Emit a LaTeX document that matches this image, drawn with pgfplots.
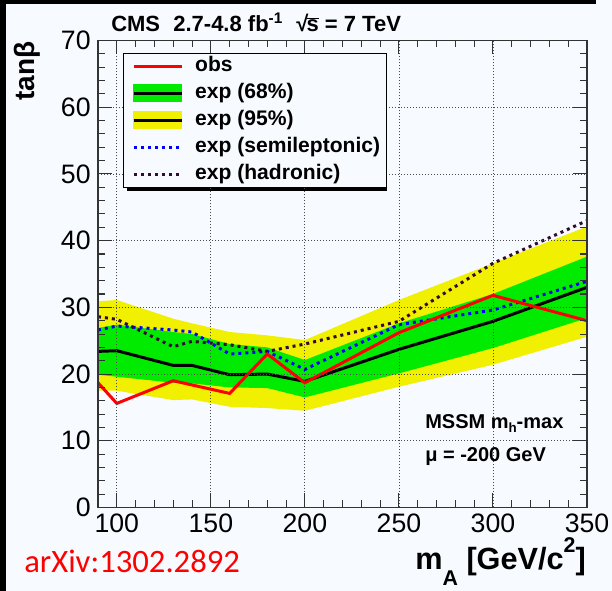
\documentclass[border=0pt]{standalone}
\usepackage{fontspec}
\setmainfont{Liberation Sans}
\newfontfamily\calib{Carlito}
\usepackage{pgfplots}
\pgfplotsset{compat=1.18}
\usepackage{pgfplotstable}

\definecolor{bg}{RGB}{247,251,255}
\definecolor{gband}{RGB}{0,235,0}
\definecolor{yband}{RGB}{240,240,0}
\definecolor{had}{RGB}{50,10,50}

% expected median, semileptonic and hadronic limits
\pgfplotstableread{
x    med   semi  hadr
90   23.4  26.6  28.6
100  23.5  27.2  28.2
130  21.3  26.6  24.1
140  21.3  26.3  24.9
160  19.9  23.0  24.4
180  20.0  23.4  23.4
200  18.9  20.7  24.5
250  23.7  27.4  27.9
300  27.9  29.6  36.6
350  33.0  33.9  43.0
}\bands

% 95% band: upper edge, then lower edge back
\pgfplotstableread{
x    y
90   30.9
100  31.1
130  28.3
140  27.6
160  26.3
180  25.8
200  25.1
250  31.1
300  36.6
350  42.1
350  25.6
300  21.4
250  18.1
200  14.5
180  14.9
160  15.1
140  16.2
130  16.1
100  17.5
90   17.5
}\ybandtab

% 68% band
\pgfplotstableread{
x    y
90   26.9
100  27.4
130  26.3
140  26.0
160  24.5
180  24.0
200  22.1
250  27.6
300  32.0
350  37.6
350  28.4
300  23.9
250  20.1
200  16.5
180  17.9
160  18.0
140  18.6
130  18.7
100  19.6
90   19.9
}\gbandtab

\pgfplotstableread{
x    obs
90   18.7
100  15.6
130  19.0
160  17.1
180  23.0
200  18.7
250  26.2
300  31.8
350  28.0
}\obsdata

\begin{document}
\begin{tikzpicture}
% canvas in pixel units of the reference
\begin{scope}[x=0.75pt,y=-0.75pt,xshift=-73.5pt,yshift=380.625pt]
\fill[bg] (0,0) rectangle (612,591);
\fill[black] (0,0) rectangle (6,591);
\fill[black] (0,0) rectangle (596,4);
\fill[black] (127,57) rectangle (387,191); % legend shadow
\end{scope}

\begin{axis}[
  at={(0,0)}, anchor=south west,
  scale only axis, width=366.75pt, height=350.25pt,
  xmin=90, xmax=350, ymin=0, ymax=70,
  xtick={100,150,...,350}, ytick={0,10,...,70},
  minor xtick={90,100,...,350}, minor ytick={0,2,...,70},
  tick align=inside, major tick length=10.5pt, minor tick length=5.25pt,
  xmajorgrids, ymajorgrids,
  major grid style={black!70, line width=0.6pt, dash pattern=on 0.75pt off 1.5pt},
  axis line style={black!80, line width=0.8pt},
  every tick/.style={black!80, line width=0.8pt},
  axis on top, no markers,
  tick label style={font=\fontsize{20}{22}\selectfont},
  /pgf/number format/assume math mode=true,
  xticklabel style={yshift=-1pt}, yticklabel style={xshift=-2pt},
  legend cell align=left,
  legend style={at={(0.0511,0.9733)}, anchor=north west,
    draw=black, line width=0.75pt, fill=bg,
    font=\bfseries\fontsize{15.8}{18}\selectfont,
    inner xsep=4.5pt, inner ysep=1.75pt, row sep=4.25pt, column sep=8.8pt,
    nodes={inner sep=0pt, text height=12pt, text depth=4pt}},
]
\addplot[fill=yband, draw=none, forget plot] table[x=x,y=y]{\ybandtab};
\addplot[fill=gband, draw=none, forget plot] table[x=x,y=y]{\gbandtab};
\addplot[black, line width=2.25pt, forget plot] table[x=x,y=med]{\bands};
\addplot[blue, line width=2.25pt, dash pattern=on 2.25pt off 3pt, forget plot] table[x=x,y=semi]{\bands};
\addplot[had, line width=2.25pt, dash pattern=on 2.25pt off 3pt, forget plot] table[x=x,y=hadr]{\bands};
\addplot[red, line width=2.25pt, forget plot] table[x=x,y=obs]{\obsdata};

\addlegendimage{legend image code/.code={\path (0pt,0pt); \draw[red, line width=2.25pt] (3pt,0pt) -- (39pt,0pt);}}
\addlegendentry{obs}
\addlegendimage{legend image code/.code={\path (0pt,0pt); \fill[gband] (3pt,-6.4pt) rectangle (39pt,6.4pt); \draw[black, line width=2.25pt] (3pt,0pt) -- (39pt,0pt);}}
\addlegendentry{exp (68\%)}
\addlegendimage{legend image code/.code={\path (0pt,0pt); \fill[yband] (3pt,-6.4pt) rectangle (39pt,6.4pt); \draw[black, line width=2.25pt] (3pt,0pt) -- (39pt,0pt);}}
\addlegendentry{exp (95\%)}
\addlegendimage{legend image code/.code={\path (0pt,0pt); \draw[blue, line width=2.25pt, dash pattern=on 2.25pt off 3pt] (3pt,0pt) -- (39pt,0pt);}}
\addlegendentry{exp (semileptonic)}
\addlegendimage{legend image code/.code={\path (0pt,0pt); \draw[had, line width=2.25pt, dash pattern=on 2.25pt off 3pt] (3pt,0pt) -- (39pt,0pt);}}
\addlegendentry{exp (hadronic)}
\end{axis}

\begin{scope}[x=0.75pt,y=-0.75pt,xshift=-73.5pt,yshift=380.625pt]
\node[anchor=base west, inner sep=0, font=\bfseries\fontsize{16.5}{18}\selectfont] at (111,31.5)
  {CMS\hspace{0.6em}2.7-4.8 fb\textsuperscript{-1}\hspace{0.6em}√\kern-0.08em$\overline{\mbox{s}}$ = 7 TeV};
\node[rotate=90, anchor=base east, inner sep=0, font=\bfseries\fontsize{21}{24}\selectfont] at (35,41) {tanβ};
\node[anchor=base east, inner sep=0, font=\bfseries\fontsize{23}{25}\selectfont] at (586,569.3)
  {m\raisebox{-12pt}{\fontsize{16}{18}\selectfont A} [GeV/c\raisebox{12.5pt}{\fontsize{16}{18}\selectfont 2}]};
\node[anchor=base west, inner sep=0, font=\bfseries\fontsize{15}{17}\selectfont] at (425,428.3)
  {MSSM m\raisebox{-3.5pt}{\fontsize{10}{11}\selectfont h}-max};
\node[anchor=base west, inner sep=0, font=\bfseries\fontsize{15}{17}\selectfont] at (425,461.7)
  {μ = -200 GeV};
\node[anchor=base west, inner sep=0, text=red, font=\calib\fontsize{24.5}{28}\selectfont] at (24,572.7)
  {arXiv:1302.2892};
\pgfresetboundingbox
\path (0,0) rectangle (612,591);
\end{scope}
\end{tikzpicture}
\end{document}
